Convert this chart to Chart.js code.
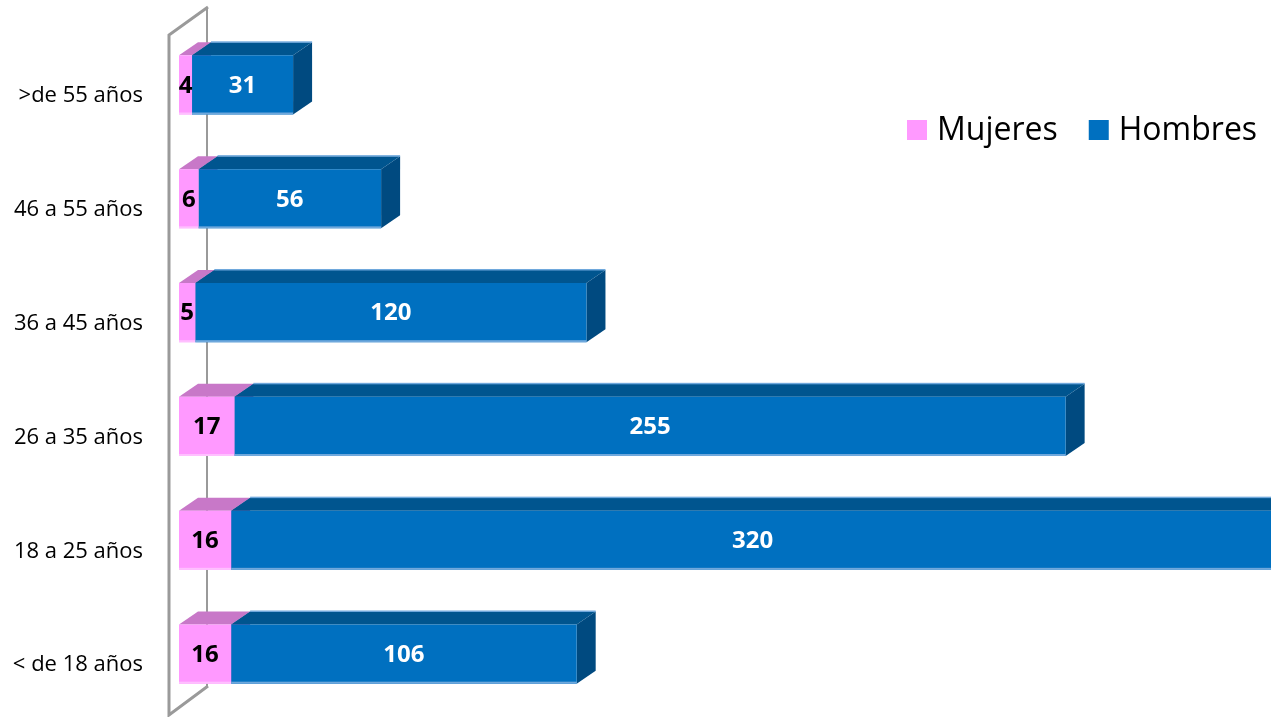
<!DOCTYPE html>
<html>
<head>
<meta charset="utf-8">
<script src="https://cdn.jsdelivr.net/npm/chart.js@4/dist/chart.umd.min.js"></script>
<style>
  html, body { margin: 0; padding: 0; background: #fff; overflow: hidden; }
  #wrap { position: relative; width: 1271px; height: 717px; }
</style>
</head>
<body>
<div id="wrap"><canvas id="bar" width="1271" height="717"></canvas></div>
<script>
const categories = [">de 55 años", "46 a 55 años", "36 a 45 años", "26 a 35 años", "18 a 25 años", "< de 18 años"];
const mujeres = [4, 6, 5, 17, 16, 16];
const hombres = [31, 56, 120, 255, 320, 106];
const seriesNames = ["Mujeres", "Hombres"];

const FONT = "'Open Sans', 'DejaVu Sans', sans-serif";
const DX = 19, DY = -13;

// front / top / side colours per series
const shades = [
	{ front: "#FF99FF", top: "#C878C8", side: "#B060B0", edge: "#FFC0FF" },
	{ front: "#0070C0", top: "#00558F", side: "#004A80", edge: "#6FA8DC" }
];

const wall = {
	id: "wall",
	beforeDatasetsDraw(chart) {
		const c = chart.ctx;
		c.save();
		c.strokeStyle = "#9A9A9A";
		c.lineWidth = 2;
		c.beginPath();
		c.moveTo(207, 7);
		c.lineTo(207, 686);
		c.stroke();
		c.lineWidth = 3;
		c.beginPath();
		c.moveTo(208, 7);
		c.lineTo(169, 35);
		c.lineTo(169, 715);
		c.lineTo(208, 686);
		c.stroke();
		c.restore();
	}
};

const faces = {
	id: "faces",
	beforeDatasetsDraw(chart) {
		const c = chart.ctx;
		c.save();
		// side faces first, then top faces, fronts are drawn by chart.js on top
		chart.data.datasets.forEach((ds, i) => {
			chart.getDatasetMeta(i).data.forEach(b => {
				const t = b.y - b.height / 2, bt = b.y + b.height / 2;
				c.fillStyle = shades[i].side;
				c.beginPath();
				c.moveTo(b.x, t);
				c.lineTo(b.x + DX, t + DY);
				c.lineTo(b.x + DX, bt + DY);
				c.lineTo(b.x, bt);
				c.closePath();
				c.fill();
			});
		});
		chart.data.datasets.forEach((ds, i) => {
			chart.getDatasetMeta(i).data.forEach(b => {
				const t = b.y - b.height / 2;
				c.fillStyle = shades[i].top;
				c.beginPath();
				c.moveTo(b.base, t);
				c.lineTo(b.base + DX, t + DY);
				c.lineTo(b.x + DX, t + DY);
				c.lineTo(b.x, t);
				c.closePath();
				c.fill();
				if (i === 1) {
					c.fillStyle = shades[i].edge;
					c.fillRect(b.base + DX, t + DY - 1, b.x - b.base, 1.5);
				}
			});
		});
		c.restore();
	},
	afterDatasetsDraw(chart) {
		const c = chart.ctx;
		c.save();
		chart.data.datasets.forEach((ds, i) => {
			chart.getDatasetMeta(i).data.forEach((b, j) => {
				const bt = b.y + b.height / 2;
				c.fillStyle = shades[i].edge;
				c.fillRect(b.base, bt - 2, b.x - b.base, 2);
				c.font = "bold 24px " + FONT;
				c.textAlign = "center";
				c.textBaseline = "middle";
				c.fillStyle = i === 0 ? "#000" : "#fff";
				c.fillText(ds.data[j], (b.base + b.x) / 2, b.y + 1);
			});
		});
		c.restore();
	}
};

const legendBox = {
	id: "legendBox",
	afterDraw(chart) {
		const c = chart.ctx;
		c.save();
		c.font = "32px " + FONT;
		c.textBaseline = "middle";
		let x = 907;
		const y = 130;
		chart.data.datasets.forEach((ds, i) => {
			c.fillStyle = ds.backgroundColor;
			c.fillRect(x, y - 10, 20, 20);
			c.fillStyle = "#000";
			c.fillText(ds.label, x + 30, y + 1);
			x += 30 + c.measureText(ds.label).width + 31;
		});
		c.restore();
	}
};

new Chart(document.getElementById("bar"), {
	type: "bar",
	data: {
		labels: categories,
		datasets: [
			{ label: seriesNames[0], data: mujeres, backgroundColor: shades[0].front },
			{ label: seriesNames[1], data: hombres, backgroundColor: shades[1].front }
		]
	},
	options: {
		indexAxis: "y",
		responsive: false,
		animation: false,
		devicePixelRatio: 1,
		categoryPercentage: 1,
		barPercentage: 0.52,
		layout: { padding: { top: 28, bottom: 6, right: 0, left: 0 } },
		plugins: { legend: { display: false }, tooltip: { enabled: false } },
		scales: {
			x: { stacked: true, display: false, min: 0, max: 335 },
			y: {
				stacked: true,
				grid: { display: false },
				border: { display: false },
				ticks: { padding: 28, labelOffset: 11, color: "#000", font: { family: FONT, size: 22 } },
				afterFit(s) { s.width = 179; s.paddingTop = 0; s.paddingBottom = 0; }
			}
		}
	},
	plugins: [wall, faces, legendBox]
});
</script>
</body>
</html>
